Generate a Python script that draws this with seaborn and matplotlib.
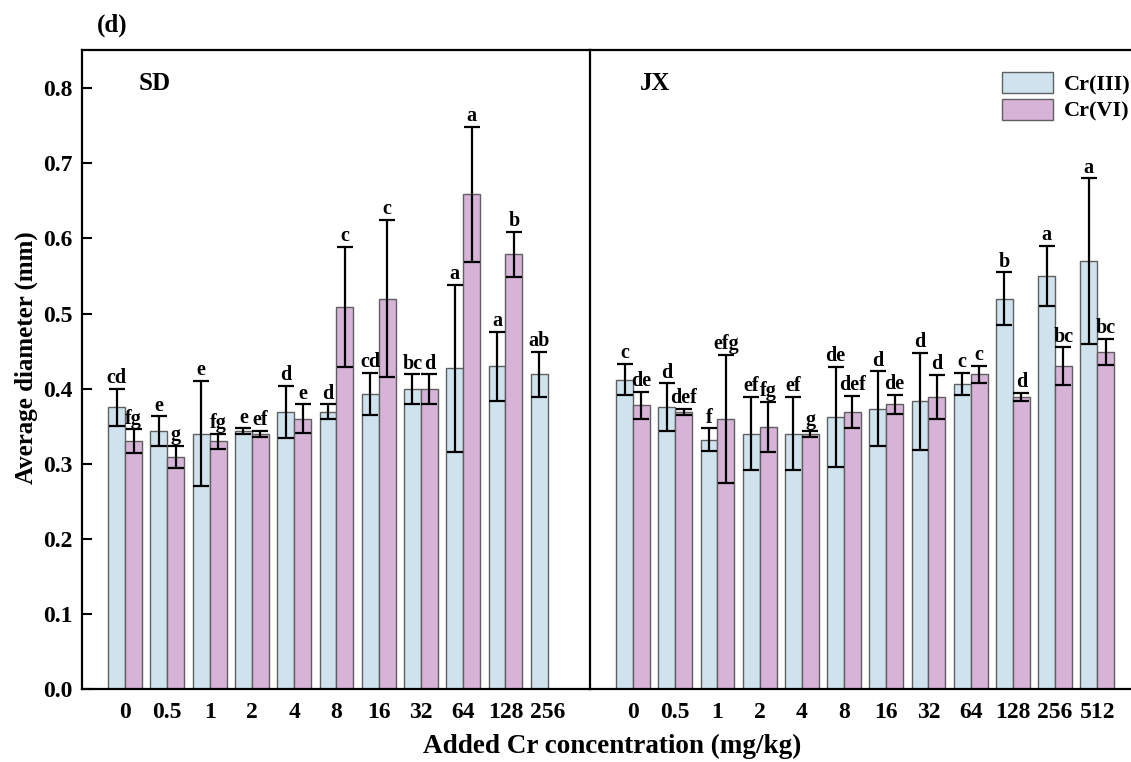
import numpy as np
import pandas as pd
import matplotlib
matplotlib.use("Agg")
import matplotlib.pyplot as plt
from matplotlib.patches import Patch
import seaborn as sns

# SD soil
sd_conc = ["0", "0.5", "1", "2", "4", "8", "16", "32", "64", "128", "256"]
sd_iii = [0.375, 0.343, 0.340, 0.343, 0.369, 0.369, 0.393, 0.399, 0.427, 0.430, 0.419]
sd_iii_err = [0.025, 0.020, 0.070, 0.004, 0.035, 0.010, 0.028, 0.020, 0.111, 0.046, 0.030]
sd_iii_lab = ["cd", "e", "e", "e", "d", "d", "cd", "bc", "a", "a", "ab"]
sd_vi = [0.330, 0.309, 0.330, 0.340, 0.360, 0.509, 0.520, 0.399, 0.659, 0.579]
sd_vi_err = [0.016, 0.015, 0.010, 0.004, 0.019, 0.080, 0.105, 0.020, 0.090, 0.030]
sd_vi_lab = ["fg", "g", "fg", "ef", "e", "c", "c", "d", "a", "b"]

# JX soil
jx_conc = ["0", "0.5", "1", "2", "4", "8", "16", "32", "64", "128", "256", "512"]
jx_iii = [0.412, 0.375, 0.332, 0.340, 0.340, 0.362, 0.373, 0.383, 0.406, 0.520, 0.550, 0.570]
jx_iii_err = [0.021, 0.032, 0.015, 0.049, 0.049, 0.067, 0.050, 0.065, 0.015, 0.035, 0.040, 0.110]
jx_iii_lab = ["c", "d", "f", "ef", "ef", "de", "d", "d", "c", "b", "a", "a"]
jx_vi = [0.378, 0.369, 0.360, 0.349, 0.340, 0.369, 0.379, 0.389, 0.419, 0.389, 0.430, 0.449]
jx_vi_err = [0.018, 0.004, 0.085, 0.033, 0.004, 0.021, 0.013, 0.029, 0.011, 0.005, 0.025, 0.017]
jx_vi_lab = ["de", "def", "efg", "fg", "g", "def", "de", "d", "c", "d", "bc", "bc"]

forms = ["Cr(III)", "Cr(VI)"]
colors = {"Cr(III)": "#cfe3ee", "Cr(VI)": "#d6b3d7"}

sns.set_style("ticks")
plt.rcParams["font.family"] = ["Liberation Serif", "DejaVu Serif"]
plt.rcParams["font.weight"] = "bold"
plt.rcParams["axes.labelweight"] = "bold"
for key in ["text.color", "axes.labelcolor", "xtick.color", "ytick.color"]:
    plt.rcParams[key] = "black"


def make_df(conc, iii, vi):
    rows = []
    for c, v in zip(conc, iii):
        rows.append({"conc": c, "form": "Cr(III)", "val": v})
    for c, v in zip(conc, vi):
        rows.append({"conc": c, "form": "Cr(VI)", "val": v})
    return pd.DataFrame(rows)


def draw_panel(ax, conc, iii, iii_err, iii_lab, vi, vi_err, vi_lab):
    df = make_df(conc, iii, vi)
    sns.barplot(data=df, x="conc", y="val", hue="form", order=conc, hue_order=forms,
                palette=colors, saturation=1, width=0.8, errorbar=None,
                edgecolor="#5f5f5f", linewidth=1.0, legend=False, ax=ax)
    series = [(iii, iii_err, iii_lab), (vi, vi_err, vi_lab)]
    bar_conts = list(ax.containers[:2])
    for k, cont in enumerate(bar_conts):
        vals, errs, labs = series[k]
        for bar in cont:
            h = bar.get_height()
            if np.isnan(h) or h == 0:
                continue
            xc = bar.get_x() + bar.get_width() / 2
            gi = int(round(xc))
            ax.errorbar(xc, vals[gi], yerr=errs[gi], fmt="none", ecolor="black",
                        elinewidth=1.6, capsize=5.5, capthick=1.6, zorder=4)
            ax.annotate(labs[gi], (xc, vals[gi] + errs[gi]), xytext=(0, 0.5),
                        textcoords="offset points", ha="center", va="bottom",
                        fontsize=14.5, fontweight="bold")
    ax.set_xlabel("")
    ax.set_ylabel("")


fig = plt.figure(figsize=(11.31, 7.62), dpi=100)
bot, top = 1 - 689 / 762, 1 - 50 / 762
x0, xm = 82 / 1131, 590 / 1131
ax1 = fig.add_axes([x0, bot, xm - x0, top - bot])
ax2 = fig.add_axes([xm, bot, 1.0 - xm, top - bot], sharey=ax1)

draw_panel(ax1, sd_conc, sd_iii, sd_iii_err, sd_iii_lab, sd_vi, sd_vi_err, sd_vi_lab)
draw_panel(ax2, jx_conc, jx_iii, jx_iii_err, jx_iii_lab, jx_vi, jx_vi_err, jx_vi_lab)

ax1.set_ylim(0, 0.851)
ax1.set_yticks(np.arange(0, 0.81, 0.1))
ax1.set_yticklabels([f"{v:.1f}" for v in np.arange(0, 0.81, 0.1)])
ax1.set_xlim(-1.02, 11.0)
ax2.set_xlim(-1.02, 11.8)

for ax in (ax1, ax2):
    for s in ax.spines.values():
        s.set_linewidth(1.6)
        s.set_color("black")
    ax.spines["right"].set_visible(False)
    ax.tick_params(axis="x", direction="in", length=4, width=1.5, pad=9, labelsize=17)
    ax.tick_params(axis="y", direction="in", length=7, width=1.5, pad=7, labelsize=17)

ax2.tick_params(axis="y", left=False, labelleft=False)

ax1.text(155 / 1131, 1 - 83 / 762, "SD", transform=fig.transFigure, ha="center",
         va="center", fontsize=18, fontweight="bold")
ax2.text(655 / 1131, 1 - 83 / 762, "JX", transform=fig.transFigure, ha="center",
         va="center", fontsize=18, fontweight="bold")
fig.text(112 / 1131, 1 - 25 / 762, "(d)", ha="center", va="center", fontsize=18,
         fontweight="bold")

handles = [Patch(facecolor=colors[f], edgecolor="#5f5f5f", linewidth=1.0) for f in forms]
ax2.legend(handles, forms, loc="upper left", bbox_to_anchor=(1002 / 1131, 1 - 72 / 762),
           bbox_transform=fig.transFigure, frameon=False, borderpad=0, borderaxespad=0,
           handlelength=2.3, handleheight=1.1, labelspacing=0.15, handletextpad=0.5,
           prop={"size": 16, "weight": "bold"})

fig.text(612 / 1131, 1 - 746 / 762, "Added Cr concentration (mg/kg)", ha="center",
         va="center", fontsize=19.5, fontweight="bold")
fig.text(26 / 1131, 1 - 358 / 762, "Average diameter (mm)", ha="center", va="center",
         rotation=90, fontsize=18, fontweight="bold")

fig.savefig("out.png", dpi=100)
